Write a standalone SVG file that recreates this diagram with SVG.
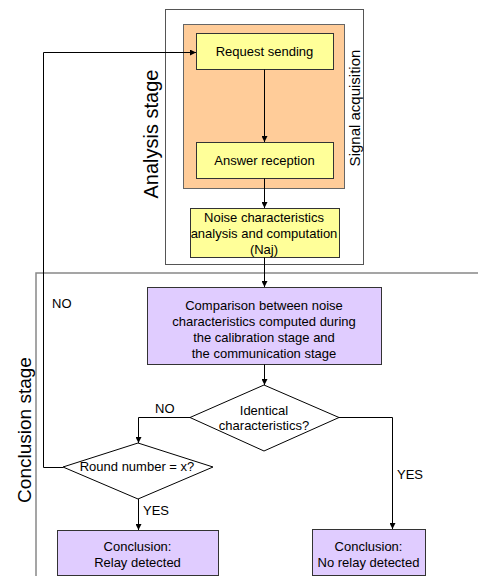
<svg xmlns="http://www.w3.org/2000/svg" width="478" height="576" viewBox="0 0 478 576">
<defs>
<marker id="arr" viewBox="0 0 10 10" refX="10" refY="5" markerWidth="6" markerHeight="6" markerUnits="userSpaceOnUse" orient="auto">
<path d="M0,0 L10,5 L0,10 z" fill="#000"/>
</marker>
</defs>
<style>
text{font-family:"Liberation Sans",Arial,sans-serif;font-size:13px;fill:#000}
.c{text-anchor:middle}
.big{font-size:20px}
.yel{fill:#FFFF99;stroke:#333;stroke-width:1}
.lav{fill:#E0CCFF;stroke:#333;stroke-width:1}
.dia{fill:#fff;stroke:#000;stroke-width:1}
.conn path{fill:none;stroke:#000;stroke-width:1}
</style>
<rect width="478" height="576" fill="#fff"/>
<g id="analysis-stage">
<rect x="165.5" y="9.5" width="198" height="255" fill="#fff" stroke="#555" stroke-width="1"/>
<text class="big c" transform="translate(158,134) rotate(-90)">Analysis stage</text>
</g>
<g id="conclusion-stage">
<path d="M36,580 V273 H480" fill="none" stroke="#888" stroke-width="1.5"/>
<text class="c" style="font-size:19px" transform="translate(31,430) rotate(-90)">Conclusion stage</text>
</g>
<g id="signal-acquisition">
<rect x="183.5" y="24.5" width="161" height="164" fill="#FFCC99" stroke="#666" stroke-width="1"/>
<text class="c" style="font-size:15px" transform="translate(360,108) rotate(-90)">Signal acquisition</text>
</g>
<g id="request-sending">
<rect class="yel" x="196.5" y="33.5" width="137" height="36"/>
<text class="c" x="264.5" y="56">Request sending</text>
</g>
<g id="answer-reception">
<rect class="yel" x="196.5" y="142.5" width="137" height="36"/>
<text class="c" x="264.5" y="165">Answer reception</text>
</g>
<g id="noise-analysis">
<rect class="yel" x="190.5" y="208.5" width="149" height="49"/>
<text class="c" x="264" y="222">Noise characteristics</text>
<text class="c" x="264" y="238">analysis and computation</text>
<text class="c" x="264" y="254">(Naj)</text>
</g>
<g id="comparison">
<rect class="lav" x="147.5" y="287.5" width="234" height="77"/>
<text class="c" x="264" y="309.5">Comparison between noise</text>
<text class="c" x="264" y="325.5">characteristics computed during</text>
<text class="c" x="264" y="341.5">the calibration stage and</text>
<text class="c" x="264" y="357.5">the communication stage</text>
</g>
<g id="identical">
<path class="dia" d="M264,385 L339,417.5 L264,451 L190,417.5 Z"/>
<text class="c" x="264" y="415">Identical</text>
<text class="c" x="264" y="430">characteristics?</text>
</g>
<g id="round-number">
<path class="dia" d="M138,443 L213,467 L138,499 L63,467 Z"/>
<text class="c" x="137" y="471">Round number = x?</text>
</g>
<g id="relay-detected">
<rect class="lav" x="57.5" y="530.5" width="161" height="45"/>
<text class="c" x="137.5" y="550.5">Conclusion:</text>
<text class="c" x="137.5" y="566.5">Relay detected</text>
</g>
<g id="no-relay-detected">
<rect class="lav" x="312.5" y="529.5" width="113" height="46"/>
<text class="c" x="368.5" y="550.5">Conclusion:</text>
<text class="c" x="368.5" y="566.5">No relay detected</text>
</g>
<g id="connectors" class="conn">
<path d="M264.5,69.5 V142" marker-end="url(#arr)"/>
<path d="M264.5,178.5 V208" marker-end="url(#arr)"/>
<path d="M264.5,257.5 V287" marker-end="url(#arr)"/>
<path d="M264.5,364.5 V385" marker-end="url(#arr)"/>
<path d="M190,417.5 H138.5 V443" marker-end="url(#arr)"/>
<path d="M339,417.5 H392.5 V529" marker-end="url(#arr)"/>
<path d="M138.5,499 V530" marker-end="url(#arr)"/>
<path d="M63,467.5 H43.5 V52.5 H196" marker-end="url(#arr)"/>
<text x="52" y="308">NO</text>
<text x="155" y="413">NO</text>
<text x="143" y="515">YES</text>
<text x="397" y="479">YES</text>
</g>
</svg>
